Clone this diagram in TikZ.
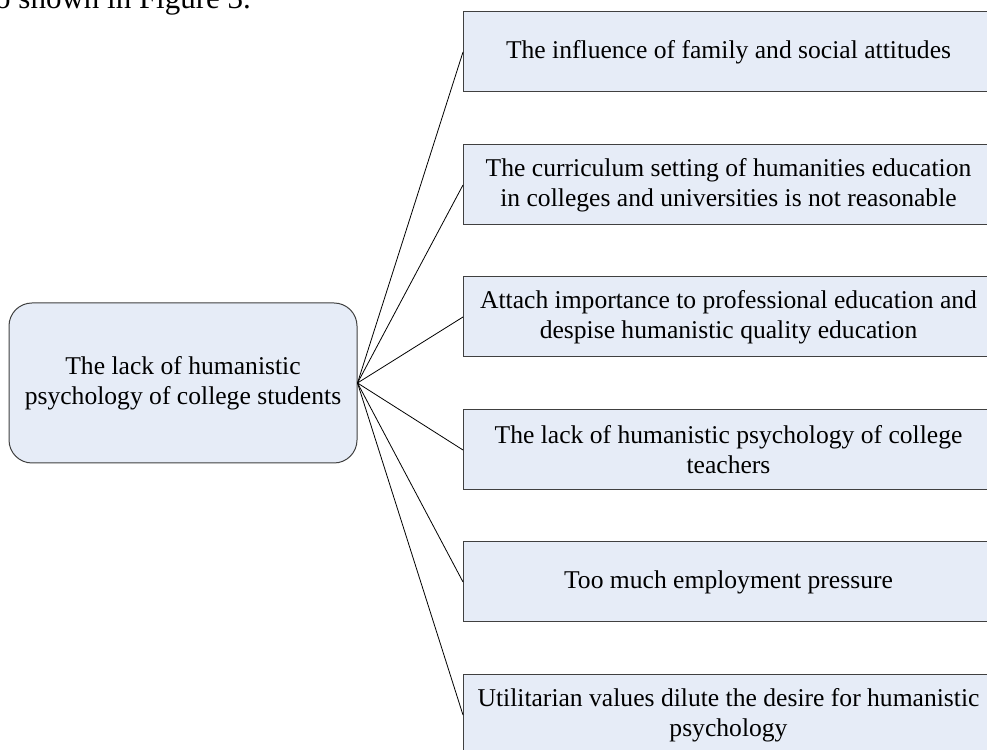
\documentclass[tikz,border=0pt]{standalone}
\usepackage{fontspec}
\setmainfont{Liberation Serif}
\usepackage{xcolor}
\definecolor{boxfill}{RGB}{230,236,247}
\definecolor{boxline}{RGB}{64,64,64}

\begin{document}
\begin{tikzpicture}[x=1pt,y=1pt,
	rootbox/.style={rectangle,rounded corners=23pt,draw=boxline,line width=1pt,fill=boxfill,
		minimum width=348pt,minimum height=160pt,align=center,font=\fontsize{25.6}{30}\selectfont},
	causebox/.style={rectangle,anchor=west,draw=boxline,line width=1pt,fill=boxfill,
		minimum width=530pt,minimum height=80pt,align=center,font=\fontsize{25.6}{30}\selectfont},
	link/.style={line width=0.8pt}]
	\useasboundingbox (0,0) rectangle (987,749);
	\clip (0,0) rectangle (987,749);
	\node (caption) at (-5,740) [anchor=base west,inner sep=0pt,font=\fontsize{31}{36}\selectfont] {o shown in Figure 3.};
	\node (lack) at (183,366) [rootbox] {The lack of humanistic\\psychology of college students};
	\node (family) at (463,697) [causebox] {The influence of family and social attitudes};
	\node (curriculum) at (463,564) [causebox] {The curriculum setting of humanities education\\in colleges and universities is not reasonable};
	\node (professional) at (463,432) [causebox] {Attach importance to professional education and\\despise humanistic quality education};
	\node (teachers) at (463,299) [causebox] {The lack of humanistic psychology of college\\teachers};
	\node (employment) at (463,167) [causebox] {Too much employment pressure};
	\node (utilitarian) at (463,34) [causebox] {Utilitarian values dilute the desire for humanistic\\psychology};
	\draw [link] (lack.east) -- (family.west);
	\draw [link] (lack.east) -- (curriculum.west);
	\draw [link] (lack.east) -- (professional.west);
	\draw [link] (lack.east) -- (teachers.west);
	\draw [link] (lack.east) -- (employment.west);
	\draw [link] (lack.east) -- (utilitarian.west);
\end{tikzpicture}
\end{document}
